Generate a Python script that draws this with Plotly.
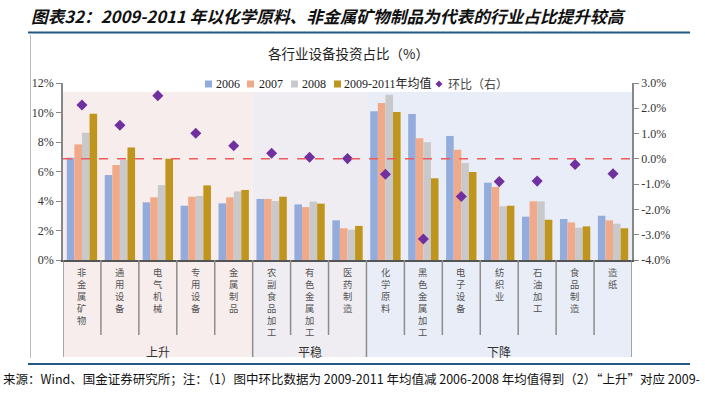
import plotly.graph_objects as go

categories = ["非金属矿物", "通用设备", "电气机械", "专用设备", "金属制品",
              "农副食品加工", "有色金属加工", "医药制造",
              "化学原料", "黑色金属加工", "电子设备", "纺织业", "石油加工", "食品制造", "造纸"]
groups = [("上升", 0, 4), ("平稳", 5, 7), ("下降", 8, 14)]

v2006 = [6.94, 5.76, 3.91, 3.68, 3.84, 4.14, 3.77, 2.69, 10.08, 9.90, 8.41, 5.24, 2.94, 2.78, 3.00]
v2007 = [7.84, 6.44, 4.25, 4.29, 4.25, 4.14, 3.59, 2.15, 10.64, 8.25, 7.48, 4.95, 3.98, 2.55, 2.69]
v2008 = [8.63, 6.78, 5.08, 4.34, 4.65, 4.00, 3.96, 2.06, 11.21, 7.98, 6.58, 3.64, 3.98, 2.19, 2.46]
vavg = [9.92, 7.62, 6.87, 5.06, 4.75, 4.29, 3.82, 2.31, 10.03, 5.54, 5.97, 3.68, 2.73, 2.28, 2.15]
vchg = [2.13, 1.33, 2.50, 1.01, 0.52, 0.22, 0.06, 0.01, -0.61, -3.17, -1.49, -0.90, -0.88, -0.22, -0.59]

left_ticks = [0, 2, 4, 6, 8, 10, 12]
left_text = ["0%", "2%", "4%", "6%", "8%", "10%", "12%"]
right_ticks = [-4, -3, -2, -1, 0, 1, 2, 3]
right_text = ["-4.0%", "-3.0%", "-2.0%", "-1.0%", "0.0%", "1.0%", "2.0%", "3.0%"]
series_names = ["2006", "2007", "2008", "2009-2011年均值", "环比（右）"]

W, H = 705, 398
L, R, T, B = 63, 73, 83, 138
PW, PH = W - L - R, H - T - B


def py(y):  # pixel y -> paper y
    return (H - B - y) / PH


def px(x):  # pixel x -> paper x
    return (x - L) / PW


x = list(range(len(categories)))
colors = ["#94ACDB", "#F0AA8A", "#C9C9CB", "#BF951D"]
diamond_color = "#7030A0"
fig = go.Figure()
for vals, c, n in zip([v2006, v2007, v2008, vavg], colors, series_names[:4]):
    fig.add_trace(go.Bar(x=x, y=vals, name=n, marker=dict(color=c, line=dict(width=0))))
fig.add_trace(go.Scatter(x=x, y=vchg, name=series_names[4], yaxis="y2", mode="markers",
                         marker=dict(symbol="diamond", size=8.5, color=diamond_color)))

shapes = []
bg = {"上升": "#F8EDED", "平稳": "#EFEDF2", "下降": "#E9EDF7"}
for gname, a, b in groups:
    shapes.append(dict(type="rect", xref="x", yref="paper", x0=a - 0.5, x1=b + 0.5,
                       y0=py(357), y1=py(92), fillcolor=bg[gname], line=dict(width=0), layer="below"))
group_edges = set()
for gname, a, b in groups:
    group_edges.add(a - 0.5)
    group_edges.add(b + 0.5)
for i in range(len(categories) + 1):
    xe = i - 0.5
    y0 = py(357) if xe in group_edges else py(335)
    shapes.append(dict(type="line", xref="x", yref="paper", x0=xe, x1=xe, y0=0, y1=y0,
                       line=dict(color="#8C8C8C", width=1.5)))
shapes.append(dict(type="line", xref="paper", yref="y2", x0=0, x1=1, y0=0, y1=0,
                   line=dict(color="#F05A5A", width=1.5, dash="dash")))
shapes.append(dict(type="line", xref="paper", yref="paper", x0=px(28), x1=px(690), y0=py(32.5), y1=py(32.5),
                   line=dict(color="#1F5A85", width=2)))
shapes.append(dict(type="line", xref="paper", yref="paper", x0=px(28), x1=px(690), y0=py(364), y1=py(364),
                   line=dict(color="#1F5A85", width=2)))
shapes.append(dict(type="line", xref="paper", yref="paper", x0=px(30.5), x1=px(30.5), y0=py(35), y1=py(358),
                   line=dict(color="#BBBBBB", width=1)))

ann = []
# compact legend
leg_sq_x = [205, 247, 291, 334]
leg_txt_x = [214, 257, 300, 342]
LY = 84
for sx, tx, c, n in zip(leg_sq_x, leg_txt_x, colors, series_names[:4]):
    shapes.append(dict(type="rect", xref="paper", yref="paper", x0=px(sx), x1=px(sx + 7),
                       y0=py(LY + 3.5), y1=py(LY - 3.5), fillcolor=c, line=dict(width=0)))
    ann.append(dict(text=n, xref="paper", yref="paper", x=px(tx), y=py(LY), xanchor="left", yanchor="middle",
                    showarrow=False, font=dict(family="Liberation Serif, Noto Sans CJK SC", size=12, color="#222")))
shapes.append(dict(type="path", xref="paper", yref="paper",
                   path="M {a},{b} L {c},{d} L {a},{e} L {f},{d} Z".format(
                       a=px(439), b=py(LY - 3.5), c=px(442.5), d=py(LY), e=py(LY + 3.5), f=px(435.5)),
                   fillcolor=diamond_color, line=dict(width=0)))
ann.append(dict(text=series_names[4], xref="paper", yref="paper", x=px(446), y=py(LY), xanchor="left",
                yanchor="middle", showarrow=False,
                font=dict(family="Noto Sans CJK SC", size=12, color="#444")))

ann.append(dict(text="<b><i>图表32：2009-2011 年以化学原料、非金属矿物制品为代表的行业占比提升较高</i></b>",
                xref="paper", yref="paper", x=px(328), y=py(16), xanchor="center", yanchor="middle",
                showarrow=False, font=dict(family="Noto Sans CJK SC", size=16.7, color="#111111")))
ann.append(dict(text="各行业设备投资占比（%）", xref="paper", yref="paper", x=px(348), y=py(53),
                xanchor="center", yanchor="middle", showarrow=False,
                font=dict(family="Noto Sans CJK SC", size=13.5, color="#222222")))
ann.append(dict(text="来源：Wind、国金证券研究所；注：（1）图中环比数据为 2009-2011 年均值减 2006-2008 年均值得到（2）“上升”对应 2009-",
                xref="paper", yref="paper", x=px(351), y=py(378), xanchor="center", yanchor="middle",
                showarrow=False, font=dict(family="Noto Sans CJK SC", size=12.5, color="#111111")))
for i, cat in enumerate(categories):
    ann.append(dict(text="<br>".join(cat), xref="x", yref="paper", x=i, y=py(263),
                    xanchor="center", yanchor="top", showarrow=False, align="center",
                    font=dict(family="Noto Sans CJK SC", size=9.3, color="#555555")))
for gname, a, b in groups:
    ann.append(dict(text=gname, xref="x", yref="paper", x=(a + b) / 2, y=py(351),
                    xanchor="center", yanchor="middle", showarrow=False,
                    font=dict(family="Noto Sans CJK SC", size=12, color="#333333")))

fig.update_layout(
    width=W, height=H, margin=dict(l=L, r=R, t=T, b=B),
    paper_bgcolor="white", plot_bgcolor="rgba(0,0,0,0)",
    barmode="group", bargap=0.2, bargroupgap=0,
    showlegend=False,
    xaxis=dict(range=[-0.5, len(categories) - 0.5], showticklabels=False, ticks="",
               showline=True, linecolor="#555555", linewidth=1.5, showgrid=False, zeroline=False),
    yaxis=dict(range=[0, 12], tickvals=left_ticks, ticktext=left_text, ticks="outside", ticklen=5,
               tickcolor="#888", showline=True, linecolor="#888", linewidth=1.5, showgrid=False,
               zeroline=False, tickfont=dict(family="Liberation Serif", size=12, color="#333")),
    yaxis2=dict(range=[-4, 3], overlaying="y", side="right", tickvals=right_ticks, ticktext=right_text,
                ticks="outside", ticklen=5, tickcolor="#888", showline=True, linecolor="#888",
                linewidth=1.5, showgrid=False, zeroline=False,
                tickfont=dict(family="Liberation Serif", size=12, color="#333")),
    shapes=shapes, annotations=ann,
)
fig.write_html("out.html", config={"displayModeBar": False},
               post_script="document.body.style.margin='0px';document.body.style.overflow='hidden';")
